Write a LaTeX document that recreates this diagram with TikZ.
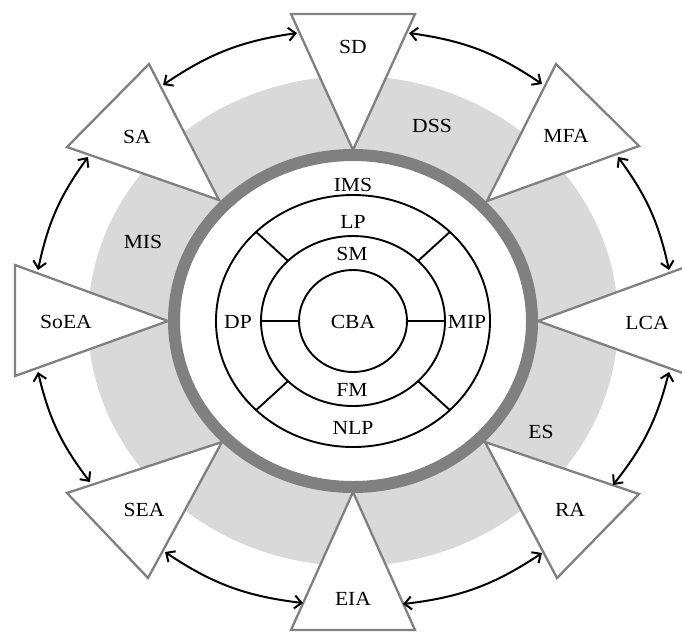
\documentclass[tikz,border=0pt]{standalone}
\usepackage{fontspec}
\setmainfont{Liberation Serif}
\usetikzlibrary{arrows.meta,calc}
\definecolor{ringgray}{RGB}{128,128,128}
\definecolor{bandgray}{RGB}{217,217,217}
\newcommand\sx[1]{\scalebox{1.08}[1]{#1}}
\begin{document}
\begin{tikzpicture}[x=1pt,y=-1pt,
  lbl/.style={font=\fontsize{20}{24}\selectfont, inner sep=0pt},
  tri/.style={draw=ringgray, line width=2.3pt, fill=white, line join=miter},
  circ/.style={draw=black, line width=1.9pt},
  dbl/.style={{Straight Barb[length=7pt,width=13pt]}-{Straight Barb[length=7pt,width=13pt]}, line width=2pt}]
\useasboundingbox (0,0) rectangle (682,633);
\clip (0,0) rectangle (682,633);
\coordinate (O) at (353,321);
% light band
\fill[bandgray, even odd rule] (O) ellipse [x radius=265, y radius=245] (O) ellipse [x radius=179, y radius=166];
% triangles
\draw[tri] (291,14) -- (415,14) -- (353,150) -- cycle;
\draw[tri] (556,64) -- (639,146) -- (487,201) -- cycle;
\draw[tri] (538,321) -- (691,265) -- (691,376) -- cycle;
\draw[tri] (639,494) -- (557,578) -- (485,442) -- cycle;
\draw[tri] (291,630) -- (415,630) -- (353,492) -- cycle;
\draw[tri] (67,493) -- (148,578) -- (222,442) -- cycle;
\draw[tri] (15,265) -- (15,376) -- (168,321) -- cycle;
\draw[tri] (149,64) -- (67,147) -- (219,200) -- cycle;
% thick ring
\draw[ringgray, line width=12pt] (O) ellipse [x radius=179, y radius=166];
% inner circles
\draw[circ] (O) ellipse [x radius=137, y radius=126];
\draw[circ] (O) ellipse [x radius=92, y radius=85];
\draw[circ] (O) ellipse [x radius=54, y radius=51];
\foreach \a in {45,135,225,315}
  \draw[circ] ($(O)+(\a:92 and 85)$) -- ($(O)+(\a:137 and 126)$);
\draw[circ] ($(O)+(-92,0)$) -- ($(O)+(-54,0)$);
\draw[circ] ($(O)+(92,0)$) -- ($(O)+(54,0)$);
% labels
\node[lbl] (ims) at (353,185) {\sx{IMS}};
\node[lbl] (lp) at (353,222) {\sx{LP}};
\node[lbl] (sm) at (352,254) {\sx{SM}};
\node[lbl] (cba) at (353,322) {\sx{CBA}};
\node[lbl] (fm) at (352,390) {\sx{FM}};
\node[lbl] (nlp) at (353,428) {\sx{NLP}};
\node[lbl] (dp) at (238,322) {\sx{DP}};
\node[lbl] (mip) at (467,322) {\sx{MIP}};
\node[lbl] (sd) at (353,47) {\sx{SD}};
\node[lbl] (dss) at (432,126) {\sx{DSS}};
\node[lbl] (mfa) at (566,136) {\sx{MFA}};
\node[lbl] (sa) at (137,137) {\sx{SA}};
\node[lbl] (mis) at (143,242) {\sx{MIS}};
\node[lbl] (soea) at (66,322) {\sx{SoEA}};
\node[lbl] (lca) at (647,323) {\sx{LCA}};
\node[lbl] (es) at (541,432) {\sx{ES}};
\node[lbl] (sea) at (144,510) {\sx{SEA}};
\node[lbl] (ra) at (570,510) {\sx{RA}};
\node[lbl] (eia) at (353,599) {\sx{EIA}};
% arrow end points
\coordinate (a1) at (163,85);
\coordinate (a2) at (297,33);
\coordinate (a3) at (409,33);
\coordinate (a4) at (542,84);
\coordinate (a5) at (618,157);
\coordinate (a6) at (669,270);
\coordinate (a7) at (669,372);
\coordinate (a8) at (613,485);
\coordinate (a9) at (542,553);
\coordinate (a10) at (403,604);
\coordinate (a11) at (303,603);
\coordinate (a12) at (165,552);
\coordinate (a13) at (90,482);
\coordinate (a14) at (38,372);
\coordinate (a15) at (38,270);
\coordinate (a16) at (88,157);
\draw[dbl] (a1) to[bend left=13] (a2);
\draw[dbl] (a3) to[bend left=13] (a4);
\draw[dbl] (a5) to[bend left=12] (a6);
\draw[dbl] (a7) to[bend left=12] (a8);
\draw[dbl] (a9) to[bend left=13.5] (a10);
\draw[dbl] (a11) to[bend left=13.5] (a12);
\draw[dbl] (a13) to[bend left=12] (a14);
\draw[dbl] (a15) to[bend left=12] (a16);
\end{tikzpicture}
\end{document}
